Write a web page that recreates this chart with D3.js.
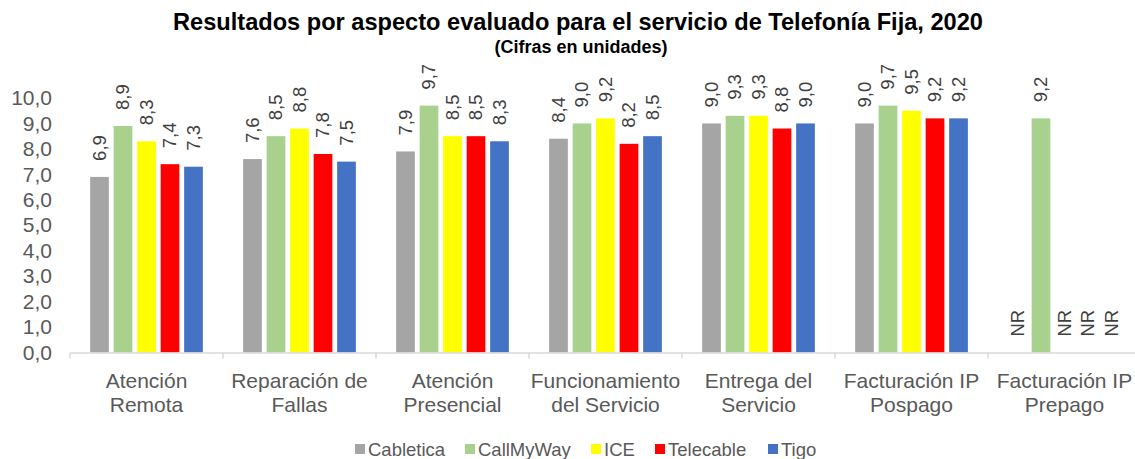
<!DOCTYPE html>
<html><head><meta charset="utf-8">
<script src="https://cdn.jsdelivr.net/npm/d3@7"></script>
<style>
html,body{margin:0;padding:0;background:#fff;}
svg{display:block;font-family:"Liberation Sans",Arial,sans-serif;}
</style></head>
<body>
<svg id="chart" width="1135" height="459"></svg>
<script>
const categories = [
  ["Atención","Remota"],
  ["Reparación de","Fallas"],
  ["Atención","Presencial"],
  ["Funcionamiento","del Servicio"],
  ["Entrega del","Servicio"],
  ["Facturación IP","Pospago"],
  ["Facturación IP","Prepago"]
];
const seriesNames = ["Cabletica","CallMyWay","ICE","Telecable","Tigo"];
const seriesColors = ["#A5A5A5","#A9D18E","#FFFF00","#FF0000","#4472C4"];
const cabletica = [6.9, 7.6, 7.9, 8.4, 9.0, 9.0, null];
const callMyWay = [8.9, 8.5, 9.7, 9.0, 9.3, 9.7, 9.2];
const ice       = [8.3, 8.8, 8.5, 9.2, 9.3, 9.5, null];
const telecable = [7.4, 7.8, 8.5, 8.2, 8.8, 9.2, null];
const tigo      = [7.3, 7.5, 8.3, 8.5, 9.0, 9.2, null];
const yTicks = [0,1,2,3,4,5,6,7,8,9,10];
const titleText = "Resultados por aspecto evaluado para el servicio de Telefonía Fija, 2020";
const subtitleText = "(Cifras en unidades)";

const seriesValues = [cabletica, callMyWay, ice, telecable, tigo];
const svg = d3.select("#chart");
const textColor = "#595959";
const fmt = v => d3.format(".1f")(v).replace(".", ",");

const x0 = d3.scaleBand().domain(d3.range(categories.length)).range([70, 70 + 153*7]);
const x1 = d3.scaleBand().domain(d3.range(seriesNames.length)).range([0, x0.bandwidth()]).paddingInner(0.204).paddingOuter(0.857);
const y = d3.scaleLinear().domain([0,10]).range([352.5, 98]);

// title
svg.append("text").attr("x", 578).attr("y", 30).attr("text-anchor","middle")
  .attr("font-size", 23.6).attr("font-weight","bold").attr("fill","#000").text(titleText);
svg.append("text").attr("x", 581).attr("y", 53).attr("text-anchor","middle")
  .attr("font-size", 18).attr("font-weight","bold").attr("fill","#000").text(subtitleText);

// y axis
const yAxis = d3.axisLeft(y).tickValues(yTicks).tickFormat(fmt).tickSize(0).tickPadding(0);
const yg = svg.append("g").attr("transform","translate(52,0)").call(yAxis);
yg.select(".domain").remove();
yg.selectAll("text").attr("font-size", 21).attr("fill", textColor).attr("font-family","Liberation Sans, Arial, sans-serif");

// bars
const groups = svg.append("g").selectAll("g").data(categories).join("g")
  .attr("transform", (d,i) => `translate(${x0(i)},0)`);
seriesNames.forEach((name, s) => {
  groups.each(function(d, i) {
    const v = seriesValues[s][i];
    const g = d3.select(this);
    const cx = x1(s) + x1.bandwidth()/2;
    if (v !== null) {
      g.append("rect").attr("x", x1(s)).attr("width", x1.bandwidth())
        .attr("y", y(v)).attr("height", y(0) - y(v)).attr("fill", seriesColors[s]);
    }
    const ly = (v !== null ? y(v) : y(0)) - 16;
    g.append("text").attr("transform", `translate(${cx},${ly}) rotate(-90)`)
      .attr("dy","0.35em").attr("text-anchor","start").attr("font-size", 18.5)
      .attr("fill", "#404040").text(v !== null ? fmt(v) : "NR");
  });
});

// x axis
const xAxis = d3.axisBottom(x0).tickSize(0).tickFormat("");
const xg = svg.append("g").attr("transform", `translate(0,${y(0)})`).call(xAxis);
xg.select(".domain").attr("stroke", "#D9D9D9").attr("stroke-width", 1.5);
const bounds = d3.range(categories.length + 1).map(i => 70 + i*x0.step());
svg.append("g").selectAll("line").data(bounds).join("line")
  .attr("x1", d => d).attr("x2", d => d).attr("y1", y(0)).attr("y2", y(0)+6)
  .attr("stroke", "#D9D9D9").attr("stroke-width", 1.5);

// category labels
const cl = svg.append("g").selectAll("text").data(categories).join("text")
  .attr("text-anchor","middle").attr("font-size", 21).attr("fill", textColor)
  .attr("x", (d,i) => x0(i) + x0.bandwidth()/2);
cl.append("tspan").attr("x", (d,i) => x0(i) + x0.bandwidth()/2).attr("y", 388).text(d => d[0]);
cl.append("tspan").attr("x", (d,i) => x0(i) + x0.bandwidth()/2).attr("y", 412).text(d => d[1]);

// legend
const legendX = [355, 465, 591, 655, 768];
const lg = svg.append("g").selectAll("g").data(seriesNames).join("g")
  .attr("transform", (d,i) => `translate(${legendX[i]},449)`);
lg.append("rect").attr("x",0).attr("y",-5).attr("width",10).attr("height",10).attr("fill",(d,i)=>seriesColors[i]);
lg.append("text").attr("x",13).attr("y",7).attr("font-size",18.5).attr("fill",textColor).text(d=>d);
</script>
</body></html>
